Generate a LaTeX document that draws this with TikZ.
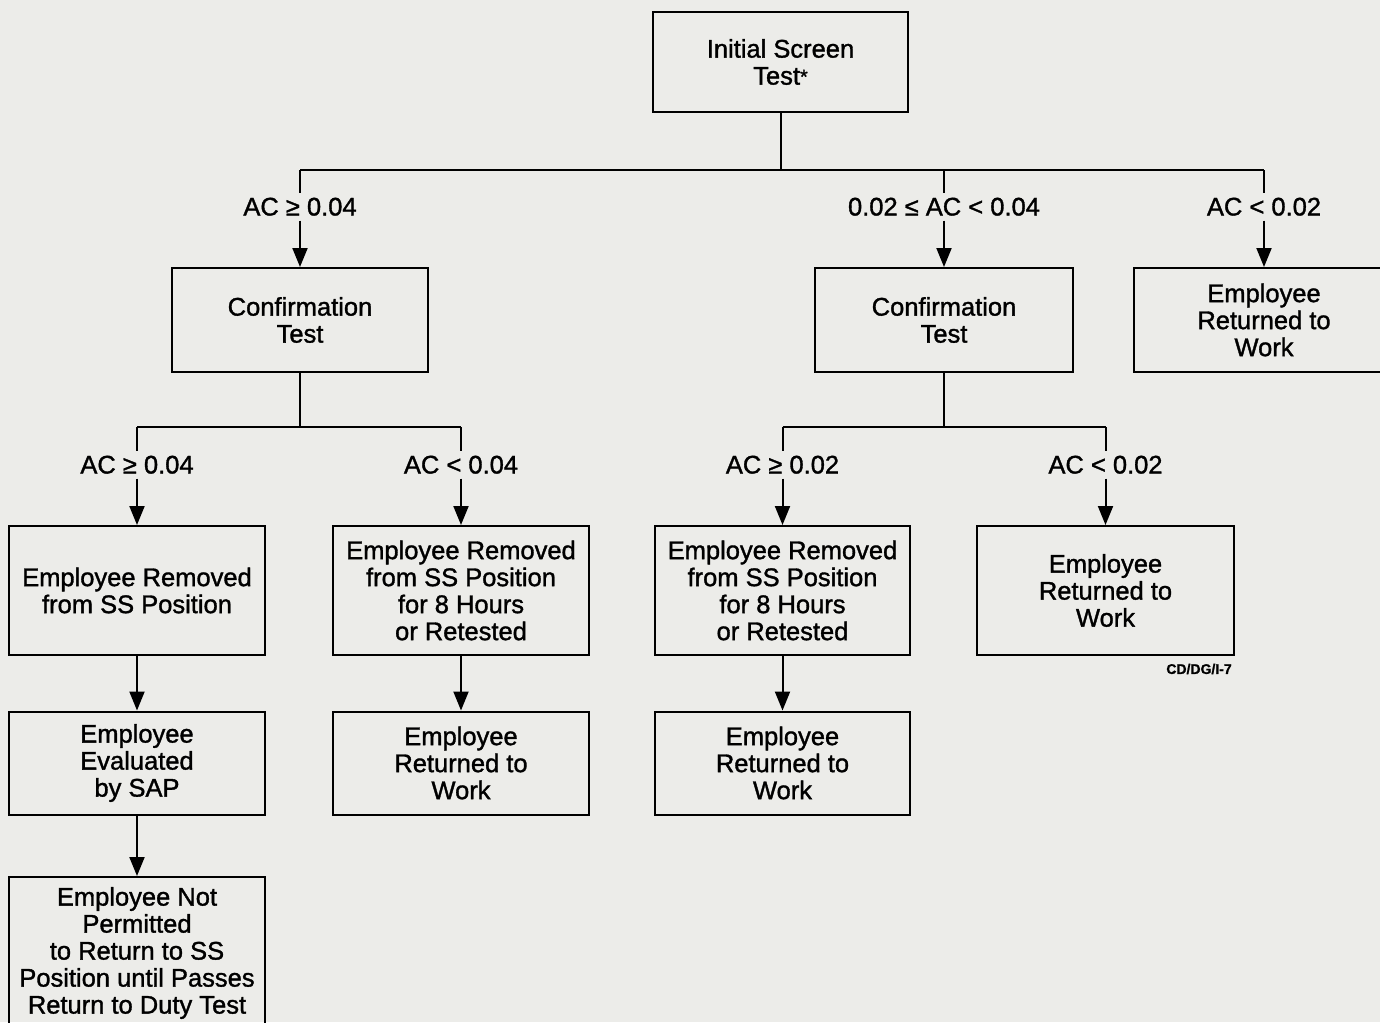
\documentclass[tikz,border=0pt]{standalone}
\usepackage{fontspec}
\setmainfont{Liberation Sans}
\newfontfamily\heavy{Liberation Sans}[FakeBold=1.3]
\usetikzlibrary{arrows.meta}
\definecolor{paper}{RGB}{236,236,233}
\begin{document}
\begin{tikzpicture}[x=1pt,y=-1pt,
  box/.style={draw, line width=2pt, minimum width=256pt, align=center,
    inner sep=0pt, font=\heavy\fontsize{25.5}{27}\selectfont},
  cond/.style={font=\heavy\fontsize{25.5}{27}\selectfont, inner xsep=2pt,
    inner ysep=5pt, text height=17pt, text depth=0pt},
  link/.style={line width=2pt},
  arr/.style={link, -{Triangle[length=19pt,width=15pt]}},
]
\fill[paper] (0,0) rectangle (1380,1022);
\useasboundingbox (0,0) rectangle (1380,1022);

% boxes
\node[box, minimum width=255pt, minimum height=100pt] (init) at (780.5,62)
  {Initial Screen\\Test\raisebox{1pt}{\fontsize{20}{20}\selectfont *}};
\node[box, minimum height=104pt] (confL) at (300,320) {Confirmation\\Test};
\node[box, minimum width=258pt, minimum height=104pt] (confR) at (944,320) {Confirmation\\Test};
\node[box, minimum width=260pt, minimum height=104pt] (retTop) at (1264,320) {Employee\\Returned to\\Work};

\node[box, minimum height=129pt] (remA) at (137,590.5) {Employee Removed\\from SS Position};
\node[box, minimum height=129pt] (remB) at (461,590.5) {Employee Removed\\from SS Position\\for 8 Hours\\or Retested};
\node[box, minimum width=255pt, minimum height=129pt] (remC) at (782.5,590.5) {Employee Removed\\from SS Position\\for 8 Hours\\or Retested};
\node[box, minimum width=257pt, minimum height=129pt] (retD) at (1105.5,590.5) {Employee\\Returned to\\Work};

\node[box, minimum height=103pt] (evalA) at (137,763) {Employee\\Evaluated\\by SAP};
\node[box, minimum height=103pt] (retB) at (461,763) {Employee\\Returned to\\Work};
\node[box, minimum width=255pt, minimum height=103pt] (retC) at (782.5,763) {Employee\\Returned to\\Work};

\node[box, anchor=north, minimum height=152pt] (notA) at (137,876) {Employee Not\\Permitted\\to Return to SS\\Position until Passes\\Return to Duty Test};

\node[font=\heavy\fontsize{14}{14}\selectfont\bfseries, inner sep=0pt] (code) at (1199,669) {CD/DG/I-7};

% condition labels
\node[cond] (cA) at (300,207) {AC ≥ 0.04};
\node[cond] (cM) at (944,207) {0.02 ≤ AC < 0.04};
\node[cond] (cR) at (1264,207) {AC < 0.02};
\node[cond] (cLA) at (137,465) {AC ≥ 0.04};
\node[cond] (cLB) at (461,465) {AC < 0.04};
\node[cond] (cRA) at (782.5,465) {AC ≥ 0.02};
\node[cond] (cRB) at (1105.5,465) {AC < 0.02};

% first split
\coordinate (j0) at (780.5,170);
\coordinate (jL) at (300,170);
\coordinate (jM) at (944,170);
\coordinate (jR) at (1264,170);
\draw[link] (init.south) -- (j0);
\draw[link] (jL) -- (jR);
\draw[link] (jL) -- (cA.north);
\draw[link] (jM) -- (cM.north);
\draw[link] (jR) -- (cR.north);
\draw[arr] (cA.south) -- (confL.north);
\draw[arr] (cM.south) -- (confR.north);
\draw[arr] (cR.south) -- (retTop.north);

% left confirmation split
\coordinate (kL) at (300,427);
\coordinate (kLA) at (137,427);
\coordinate (kLB) at (461,427);
\draw[link] (confL.south) -- (kL);
\draw[link] (kLA) -- (kLB);
\draw[link] (kLA) -- (cLA.north);
\draw[link] (kLB) -- (cLB.north);
\draw[arr] (cLA.south) -- (remA.north);
\draw[arr] (cLB.south) -- (remB.north);

% right confirmation split
\coordinate (kR) at (944,427);
\coordinate (kRA) at (782.5,427);
\coordinate (kRB) at (1105.5,427);
\draw[link] (confR.south) -- (kR);
\draw[link] (kRA) -- (kRB);
\draw[link] (kRA) -- (cRA.north);
\draw[link] (kRB) -- (cRB.north);
\draw[arr] (cRA.south) -- (remC.north);
\draw[arr] (cRB.south) -- (retD.north);

% follow-up steps
\draw[arr] (remA.south) -- (evalA.north);
\draw[arr] (evalA.south) -- (notA.north);
\draw[arr] (remB.south) -- (retB.north);
\draw[arr] (remC.south) -- (retC.north);
\end{tikzpicture}
\end{document}
